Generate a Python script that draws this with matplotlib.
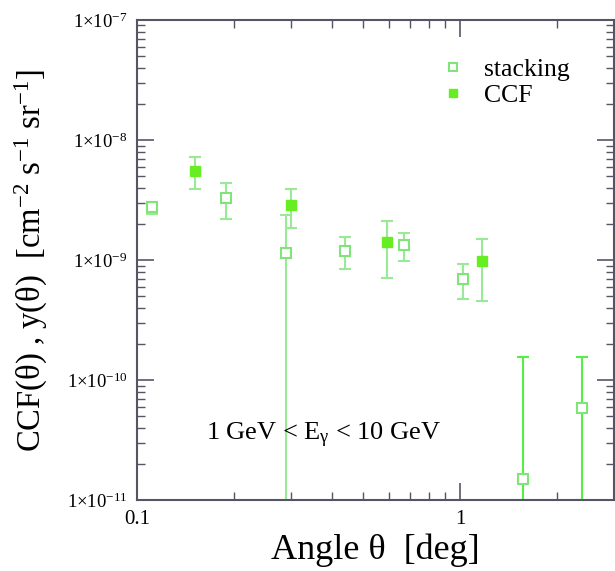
import matplotlib
matplotlib.use("Agg")
import matplotlib.pyplot as plt
import numpy as np
from matplotlib.ticker import FixedLocator, LogLocator, NullFormatter

plt.rcParams['font.family'] = ['Liberation Serif', 'DejaVu Serif']
plt.rcParams['mathtext.fontset'] = 'custom'
plt.rcParams['mathtext.rm'] = 'Liberation Serif'
plt.rcParams['mathtext.it'] = 'Liberation Serif:italic'

# stacking (open squares)
stk_x = [0.111, 0.188, 0.289, 0.440, 0.672, 1.02, 1.56, 2.38]
stk_y = [2.78e-9, 3.27e-9, 1.14e-9, 1.19e-9, 1.33e-9, 7.0e-10, 1.5e-11, 5.9e-11]
stk_hi = [3.06e-9, 4.36e-9, 2.38e-9, 1.55e-9, 1.69e-9, 9.3e-10, 1.56e-10, 1.56e-10]
stk_lo = [2.42e-9, 2.18e-9, 1e-13, 8.4e-10, 9.9e-10, 4.7e-10, 1e-13, 1e-13]

# CCF (filled squares)
ccf_x = [0.151, 0.2996, 0.592, 1.17]
ccf_y = [5.52e-9, 2.87e-9, 1.42e-9, 9.75e-10]
ccf_hi = [7.18e-9, 3.88e-9, 2.12e-9, 1.49e-9]
ccf_lo = [3.93e-9, 1.85e-9, 7.1e-10, 4.55e-10]

ytick_vals = [1e-11, 1e-10, 1e-9, 1e-8, 1e-7]
ytick_labels = [r'1$\times$10$^{\rm {-}11}$', r'1$\times$10$^{\rm {-}10}$', r'1$\times$10$^{\rm {-}9}$',
                r'1$\times$10$^{\rm {-}8}$', r'1$\times$10$^{\rm {-}7}$']
xtick_vals = [0.1, 1]
xtick_labels = ['0.1', '1']

fig = plt.figure(figsize=(6.15, 5.71), dpi=100)
ax = fig.add_axes([0.223, 0.124, 0.776, 0.841])
ax.set_xscale('log')
ax.set_yscale('log')
ax.set_xlim(0.1, 3.0)
ax.set_ylim(1e-11, 1e-7)

err_col = '#98ea94'
long_col = '#55ee44'
mk_col = '#66ee22'
open_col = '#80e478'

ymin_axis = 1e-11
for xi, yi, lo, hi in zip(stk_x, stk_y, stk_lo, stk_hi):
    c = long_col if lo < ymin_axis and yi < 1e-10 else err_col
    ax.errorbar([xi], [yi], yerr=[[yi - lo], [hi - yi]], fmt='none', ecolor=c,
                elinewidth=1.5, capsize=4.5, capthick=1.5, zorder=2)
ax.plot(stk_x, stk_y, 's', mfc='white', mec=open_col, mew=1.5, ms=7, ls='none',
        label='stacking', zorder=3)

cy = np.array(ccf_y)
ax.errorbar(ccf_x, ccf_y, yerr=[cy - np.array(ccf_lo), np.array(ccf_hi) - cy],
            fmt='none', ecolor=err_col, elinewidth=1.5, capsize=4.5, capthick=1.5, zorder=2)
ax.plot(ccf_x, ccf_y, 's', mfc=mk_col, mec=mk_col, ms=7, ls='none', label='CCF', zorder=3)

ax.yaxis.set_major_locator(FixedLocator(ytick_vals))
ax.set_yticklabels(ytick_labels)
ax.yaxis.set_minor_locator(LogLocator(base=10, subs=np.arange(2, 10)))
ax.yaxis.set_minor_formatter(NullFormatter())
ax.xaxis.set_major_locator(FixedLocator(xtick_vals))
ax.set_xticklabels(xtick_labels)
ax.xaxis.set_minor_locator(LogLocator(base=10, subs=np.arange(2, 10)))
ax.xaxis.set_minor_formatter(NullFormatter())

ax.tick_params(which='both', direction='in', top=True, right=True, colors='#555566', labelcolor='black')
ax.tick_params(which='major', length=12, width=1.2, pad=7)
ax.tick_params(axis='y', which='major', labelsize=13.5)
ax.tick_params(axis='x', which='major', labelsize=15)
ax.tick_params(which='minor', length=6, width=1.0)
for s in ax.spines.values():
    s.set_color('#555566')
    s.set_linewidth(1.5)

ax.set_xlabel('Angle θ  [deg]', fontsize=26, labelpad=3)
ax.set_ylabel(r'CCF(θ) , y(θ)  [cm$^{\rm {-}2}$ s$^{\rm {-}1}$ sr$^{\rm {-}1}$]', fontsize=23.5)
ax.yaxis.set_label_coords(-0.182, 0.5)

ax.text(0.377, 3.48e-11, r'1 GeV < E$_{\rm γ}$ < 10 GeV', fontsize=19, ha='center', va='center')

leg = ax.legend(loc='upper right', bbox_to_anchor=(0.955, 0.97), frameon=False, fontsize=18.5,
                handlelength=0.8, handletextpad=0.8, labelspacing=0.15, markerscale=0.8)

fig.savefig('out.png', dpi=100)
